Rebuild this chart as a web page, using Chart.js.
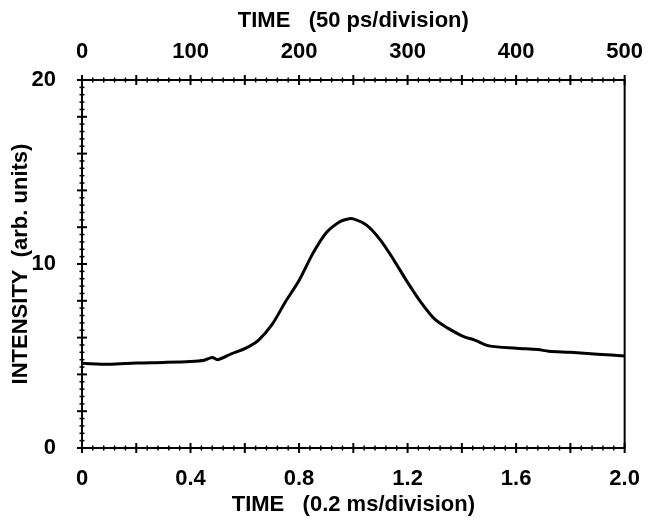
<!DOCTYPE html>
<html>
<head>
<meta charset="utf-8">
<title>Intensity vs time</title>
<script src="https://cdn.jsdelivr.net/npm/chart.js@4.4.1/dist/chart.umd.min.js"></script>
<style>
  html, body { margin: 0; padding: 0; background: #fff; }
  #chartCanvas { display: block; }
</style>
</head>
<body>
<canvas id="chartCanvas" width="650" height="526"></canvas>
<script>
    /********** DATA **********/
    // time in ms (bottom axis)
    const timeMs = [0, 0.1, 0.2, 0.3, 0.4, 0.45, 0.48, 0.5, 0.55, 0.6, 0.65, 0.7, 0.75, 0.8,
      0.85, 0.9, 0.95, 0.98, 1.0, 1.05, 1.1, 1.15, 1.2, 1.25, 1.3, 1.35, 1.4, 1.45, 1.5,
      1.6, 1.68, 1.72, 1.8, 1.9, 2.0];
    // intensity (arb. units)
    const intensity = [4.6, 4.55, 4.62, 4.65, 4.7, 4.77, 4.92, 4.8, 5.12, 5.4, 5.85, 6.7, 7.95, 9.1,
      10.55, 11.7, 12.3, 12.45, 12.45, 12.1, 11.3, 10.2, 9.0, 7.9, 7.0, 6.5, 6.1, 5.85, 5.55,
      5.42, 5.35, 5.26, 5.2, 5.1, 5.0];

    const bottomTitle = "TIME   (0.2 ms/division)";
    const topTitle = "TIME   (50 ps/division)";
    const yTitle = "INTENSITY  (arb. units)";

    const labelFont = { family: "'Liberation Sans', Arial, sans-serif", size: 22, weight: 'bold' };

    /********** TICK MARKS + FRAME **********/
    // tick marks cross the axis line, like the original plot
    const frameMarks = {
      id: 'frameMarks',
      afterDraw(chart) {
        const ctx = chart.ctx;
        const a = chart.chartArea;
        const xs = chart.scales.x, xt = chart.scales.xTop, ys = chart.scales.y;
        ctx.save();
        ctx.strokeStyle = '#000';
        ctx.lineWidth = 2;
        ctx.beginPath();
        ctx.rect(a.left, a.top, a.right - a.left, a.bottom - a.top);
        ctx.stroke();

        function marks(scale, from, to, step, major, horizontal, at) {
          const n = Math.round((to - from) / step);
          for (let i = 0; i <= n; i++) {
            const v = from + i * step;
            const isMajor = Math.abs(v / major - Math.round(v / major)) < 1e-6;
            const len = isMajor ? 5 : 2.5;
            const p = scale.getPixelForValue(v);
            ctx.lineWidth = isMajor ? 2 : 1.5;
            ctx.beginPath();
            if (horizontal) { ctx.moveTo(p, at - len); ctx.lineTo(p, at + len); }
            else { ctx.moveTo(at - len, p); ctx.lineTo(at + len, p); }
            ctx.stroke();
          }
        }
        marks(xs, 0, 2, 0.04, 0.2, true, a.bottom);
        marks(xt, 0, 500, 10, 50, true, a.top);
        marks(ys, 0, 20, 0.4, 2, false, a.left);
        ctx.restore();
      }
    };

    /********** CHART **********/
    const ctx = document.getElementById("chartCanvas").getContext("2d");
    new Chart(ctx, {
      type: 'line',
      data: {
        datasets: [{
          data: timeMs.map((t, i) => ({ x: t, y: intensity[i] })),
          borderColor: '#000',
          borderWidth: 3,
          pointRadius: 0,
          tension: 0.3,
          fill: false
        }]
      },
      options: {
        responsive: false,
        animation: false,
        devicePixelRatio: 1,
        parsing: false,
        layout: { padding: { left: 0, right: 22, top: 0, bottom: 0 } },
        plugins: {
          legend: { display: false },
          tooltip: { enabled: false }
        },
        scales: {
          x: {
            type: 'linear', position: 'bottom', min: 0, max: 2,
            grid: { display: false }, border: { display: false },
            ticks: {
              stepSize: 0.4, color: '#000', font: labelFont, padding: 10, maxRotation: 0,
              callback: v => (Math.abs(v) < 1e-9 ? '0' : v.toFixed(1))
            },
            title: { display: true, text: bottomTitle, color: '#000', font: labelFont, padding: { top: 8, bottom: 8 } },
            afterFit: s => { s.height = 78; }
          },
          xTop: {
            type: 'linear', position: 'top', min: 0, max: 500, display: true,
            grid: { display: false }, border: { display: false },
            ticks: { stepSize: 100, color: '#000', font: labelFont, padding: 7, maxRotation: 0 },
            title: { display: true, text: topTitle, color: '#000', font: labelFont, padding: { top: 8, bottom: 8 } },
            afterFit: s => { s.height = 80; }
          },
          y: {
            type: 'linear', position: 'left', min: 0, max: 20,
            grid: { display: false }, border: { display: false },
            ticks: { stepSize: 10, color: '#000', font: labelFont, padding: 18 },
            title: { display: true, text: yTitle, color: '#000', font: labelFont, padding: { top: 8, bottom: 8 } },
            afterFit: s => { s.width = 82; }
          }
        }
      },
      plugins: [frameMarks]
    });
</script>
</body>
</html>
